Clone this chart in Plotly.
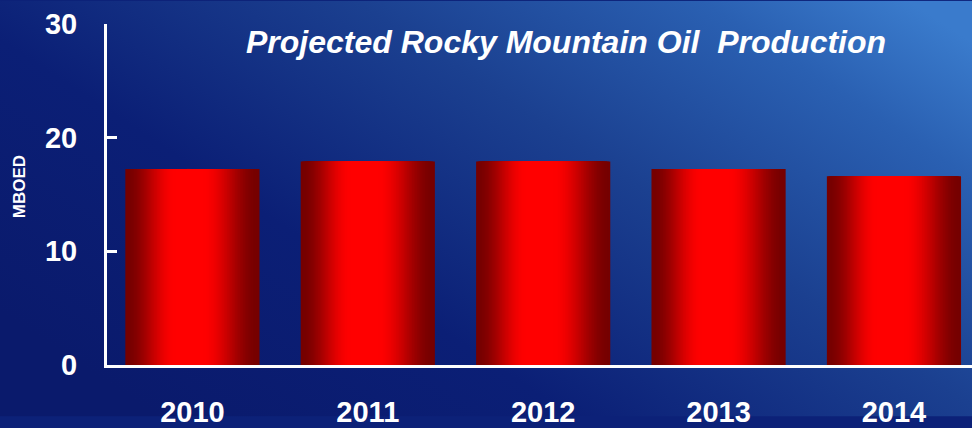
import base64
import plotly.graph_objects as go

# ---- data ----
years = ["2010", "2011", "2012", "2013", "2014"]
production = [17.25, 17.9, 17.9, 17.25, 16.6]
y_ticks = [0, 10, 20, 30]
title_text = "Projected Rocky Mountain Oil\u00a0\u00a0Production"
y_title = "MBOED"

# ---- layout constants ----
W, H = 972, 428
ML, MR, MT, MB = 107, 0, 24, 53
PW, PH = W - ML - MR, H - MT - MB
BAR_W = 0.765

fig = go.Figure()

# gradient bars: overlaid layers narrowing toward a bright core
N = 44
dark = (118, 0, 0)
bright = (255, 0, 0)
for k in range(N):
    f = k / (N - 1)
    left = -BAR_W / 2 + f * 0.46 * BAR_W
    right = BAR_W / 2 - f * 0.52 * BAR_W
    s = min(1.0, f / 0.8)
    t = s * s * (3 - 2 * s)
    col = tuple(int(dark[i] + (bright[i] - dark[i]) * t) for i in range(3))
    fig.add_trace(go.Bar(
        x=years, y=production,
        width=right - left, offset=left,
        marker=dict(color="rgb(%d,%d,%d)" % col, line=dict(width=0)),
        hoverinfo="skip", showlegend=False,
    ))

# background gradient as SVG image
svg = (
    '<svg xmlns="http://www.w3.org/2000/svg" width="972" height="428" preserveAspectRatio="none">'
    '<defs><linearGradient id="g" x1="0" y1="0.75" x2="1" y2="0.1">'
    '<stop offset="0" stop-color="#0a1a6c"/>'
    '<stop offset="0.3" stop-color="#0b1f76"/>'
    '<stop offset="0.6" stop-color="#1b4090"/>'
    '<stop offset="0.85" stop-color="#2a60b2"/>'
    '<stop offset="1" stop-color="#3a7bcc"/>'
    '</linearGradient></defs>'
    '<rect width="972" height="428" fill="url(#g)"/></svg>'
)
src = "data:image/svg+xml;base64," + base64.b64encode(svg.encode()).decode()
fig.add_layout_image(dict(
    source=src, xref="paper", yref="paper",
    x=-ML / PW, y=1 + MT / PH, sizex=W / PW, sizey=H / PH,
    xanchor="left", yanchor="top", sizing="stretch", layer="below",
))

font_main = "Liberation Sans, Arial, sans-serif"

fig.add_annotation(
    text="<b><i>" + title_text + "</i></b>", xref="paper", yref="paper",
    x=(565.5 - ML) / PW, y=1 - (43 - MT) / PH, xanchor="center", yanchor="middle",
    showarrow=False, font=dict(family=font_main, size=32, color="white"),
)
fig.add_annotation(
    text="<b>" + y_title + "</b>", xref="paper", yref="paper",
    x=(19 - ML) / PW, y=1 - (192 - MT) / PH, xanchor="center", yanchor="middle",
    textangle=-90, showarrow=False, font=dict(family=font_main, size=17, color="white"),
)

fig.update_layout(
    width=W, height=H,
    margin=dict(l=ML, r=MR, t=MT, b=MB, pad=0),
    paper_bgcolor="#0c2178", plot_bgcolor="rgba(0,0,0,0)",
    barmode="overlay",
    showlegend=False,
    font=dict(family=font_main, color="white"),
)
fig.update_xaxes(
    range=[-0.487, 4.445], showgrid=False, zeroline=False,
    showline=True, linecolor="white", linewidth=3,
    ticks="", tickfont=dict(size=29, color="white", family=font_main, weight="bold"),
    ticklabelstandoff=19,
)
fig.update_yaxes(
    range=[0, 30], tickvals=y_ticks, showgrid=False, zeroline=False,
    showline=True, linecolor="white", linewidth=3,
    ticks="inside", ticklen=10, tickwidth=3, tickcolor="white",
    tickfont=dict(size=29, color="white", family=font_main, weight="bold"),
    ticklabelstandoff=21,
)

fig.write_html(
    "out.html",
    config={"displayModeBar": False},
    post_script="document.body.style.margin='0';document.body.style.overflow='hidden';",
)
